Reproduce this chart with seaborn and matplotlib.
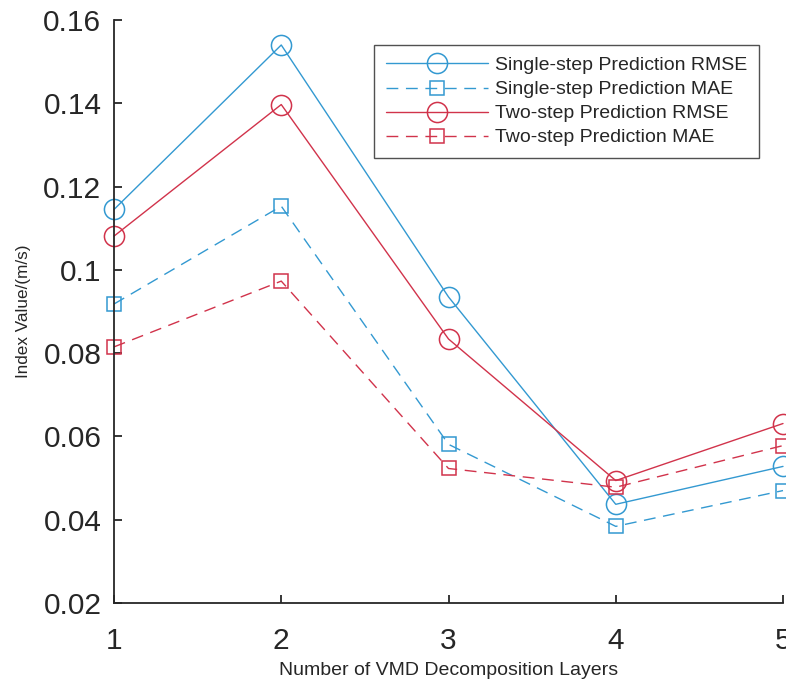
import matplotlib
matplotlib.use("Agg")
import matplotlib.pyplot as plt
import seaborn as sns
import pandas as pd

layers = [1, 2, 3, 4, 5]
single_rmse = [0.1145, 0.1540, 0.0935, 0.0437, 0.0528]
single_mae = [0.0918, 0.1153, 0.0581, 0.0384, 0.0470]
two_rmse = [0.1081, 0.1397, 0.0834, 0.0494, 0.0631]
two_mae = [0.0815, 0.0973, 0.0523, 0.0478, 0.0578]
yticks = [0.02, 0.04, 0.06, 0.08, 0.1, 0.12, 0.14, 0.16]
ytick_labels = ["0.02", "0.04", "0.06", "0.08", "0.1", "0.12", "0.14", "0.16"]

sns.set_style("white")
plt.rcParams['font.family'] = ['Liberation Sans', 'DejaVu Sans']

BLUE = '#3399D1'
RED = '#D1334B'

fig = plt.figure(figsize=(7.86, 6.80), dpi=100)
ax = fig.add_axes([114/786, 77/680, (783-114)/786, (603-20)/680])

series = [
    ("Single-step Prediction RMSE", single_rmse, BLUE, '-', 'o', 14.5),
    ("Single-step Prediction MAE", single_mae, BLUE, '--', 's', 10),
    ("Two-step Prediction RMSE", two_rmse, RED, '-', 'o', 14.5),
    ("Two-step Prediction MAE", two_mae, RED, '--', 's', 10),
]
for name, vals, col, ls, mk, ms in series:
    df = pd.DataFrame({"x": layers, "y": vals})
    sns.lineplot(data=df, x="x", y="y", ax=ax, color=col, linestyle=ls,
                 marker=mk, markersize=ms, markerfacecolor='none',
                 markeredgecolor=col, markeredgewidth=1.1, linewidth=1.0,
                 label=name, clip_on=False)
for line in ax.get_lines():
    if line.get_linestyle() == '--':
        line.set_dashes((8.5, 5.5))

ax.set_xlim(1, 5)
ax.set_ylim(0.02, 0.16)
ax.set_xticks(layers)
ax.set_xticklabels([str(v) for v in layers])
ax.set_yticks(yticks)
ax.set_yticklabels(ytick_labels)
for s in ['top', 'right']:
    ax.spines[s].set_visible(False)
for s in ['left', 'bottom']:
    ax.spines[s].set_color('#262626')
    ax.spines[s].set_linewidth(1.3)
ax.tick_params(axis='both', which='major', bottom=True, left=True, top=False, right=False,
               direction='in', length=6, width=1.3, color='#262626',
               labelsize=21.5, labelcolor='#262626')
ax.tick_params(axis='x', pad=17)
ax.tick_params(axis='y', pad=9)
ax.set_xlabel("Number of VMD Decomposition Layers", fontsize=14, color='#262626', labelpad=5)
ax.set_ylabel("Index Value/(m/s)", fontsize=12.3, color='#262626', labelpad=9)

leg = ax.legend(loc='upper right', bbox_to_anchor=(759/786, 1 - 45/680),
                bbox_transform=fig.transFigure, fontsize=14, frameon=True,
                fancybox=False, edgecolor='#262626', handlelength=5.25,
                borderpad=0.6, labelspacing=0.33, handletextpad=0.36,
                borderaxespad=0)
leg.get_frame().set_linewidth(1.0)

fig.savefig("out.png", dpi=100)
